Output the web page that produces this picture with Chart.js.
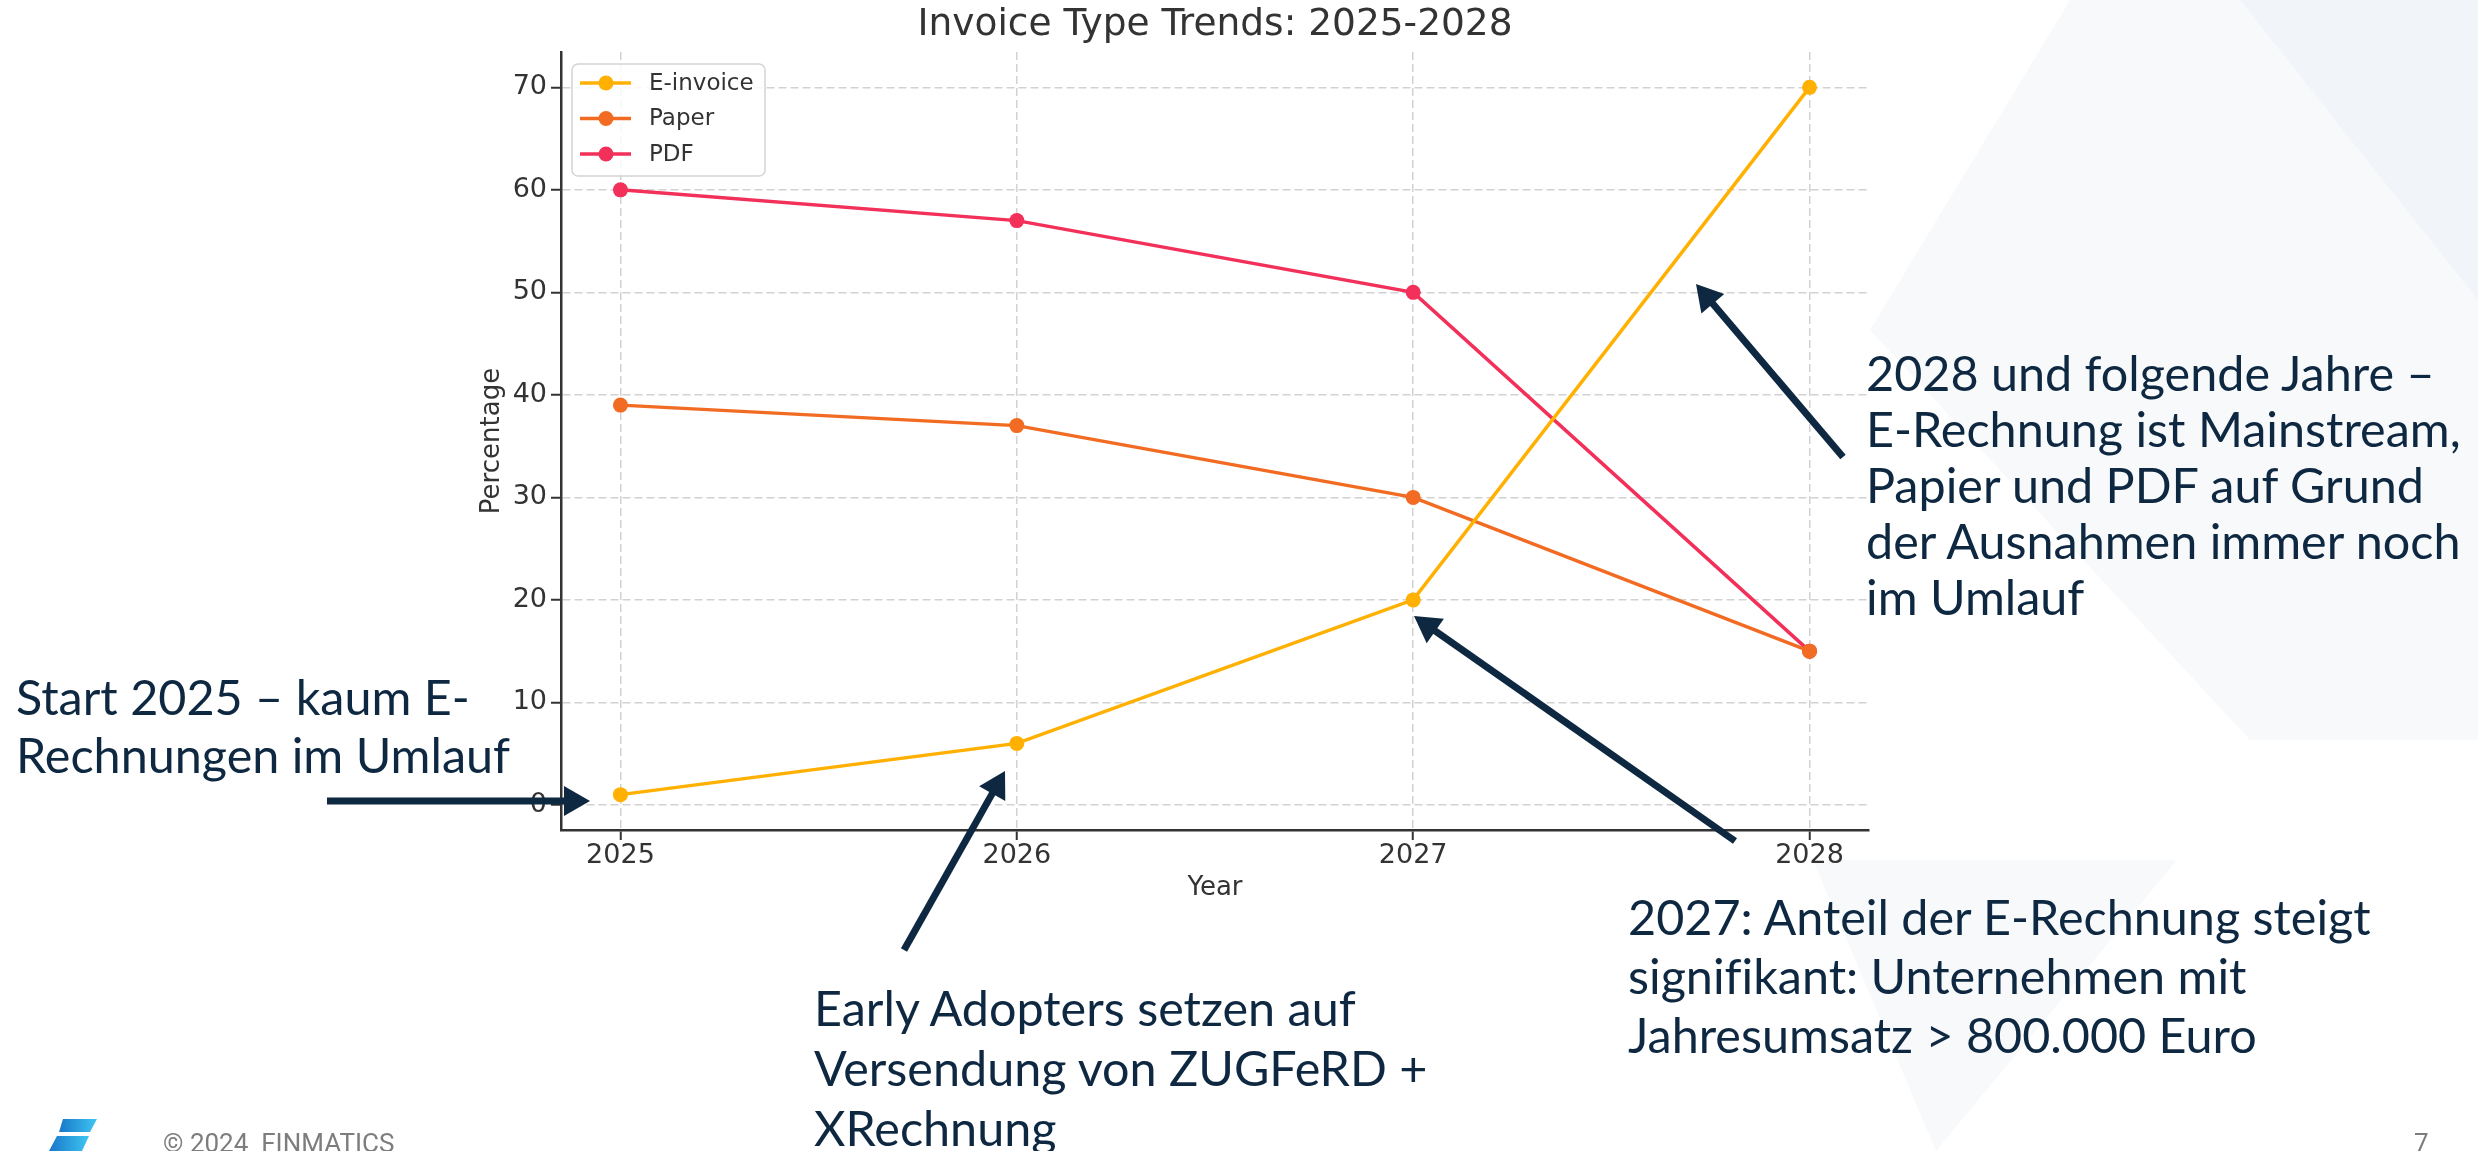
<!DOCTYPE html>
<html>
<head>
<meta charset="utf-8">
<script src="https://cdn.jsdelivr.net/npm/chart.js@4.4.0/dist/chart.umd.min.js"></script>
<style>
html, body { margin: 0; padding: 0; background: #fff; }
body { width: 2478px; height: 1151px; position: relative; overflow: hidden; font-family: Lato, sans-serif; }
#bg, #arrows { position: absolute; left: 0; top: 0; }
#wrap { position: absolute; left: 0; top: 0; width: 2478px; height: 1151px; }
.note { position: absolute; color: #0e2841; font-size: 48.5px; line-height: 58px; white-space: nowrap; font-variant-ligatures: none; }
.foot { position: absolute; color: #7d7d7d; font-family: Roboto, sans-serif; font-size: 26px; white-space: nowrap; }
</style>
</head>
<body>
<svg id="bg" width="2478" height="1151">
  <polygon points="1870,330 2070,0 2478,0 2478,740 2250,740" fill="#f8f9fb"/>
  <polygon points="2240,0 2478,0 2478,300" fill="#f1f4f8"/>
  <polygon points="1813,860 2177,860 1936,1151" fill="#f8f9fb"/>
</svg>

<div id="wrap"><canvas id="mycanvas"></canvas></div>

<svg id="arrows" width="2478" height="1151"></svg>

<div class="note" style="left:16px; top:667px;">Start 2025 – kaum E-<br>Rechnungen im Umlauf</div>
<div class="note" style="left:1866px; top:344px; line-height:56px;">2028 und folgende Jahre –<br>E-Rechnung ist Mainstream,<br>Papier und PDF auf Grund<br>der Ausnahmen immer noch<br>im Umlauf</div>
<div class="note" style="left:814px; top:977px; line-height:60px;">Early Adopters setzen auf<br>Versendung von ZUGFeRD +<br>XRechnung</div>
<div class="note" style="left:1628px; top:887px; line-height:59px;">2027: Anteil der E-Rechnung steigt<br>signifikant: Unternehmen mit<br>Jahresumsatz &gt; 800.000 Euro</div>

<svg style="position:absolute;left:0;top:0" width="2478" height="1151">
  <defs>
    <linearGradient id="logo" x1="0" y1="0" x2="1" y2="0">
      <stop offset="0" stop-color="#1877c9"/>
      <stop offset="1" stop-color="#3fc6f2"/>
    </linearGradient>
  </defs>
  <polygon points="63,1119 97,1119 90,1132 59,1132" fill="url(#logo)"/>
  <polygon points="57,1136 89,1136 82,1151 49,1151" fill="url(#logo)"/>
</svg>
<div class="foot" style="left:163px; top:1128px;">© 2024&nbsp; FINMATICS</div>
<div class="foot" style="left:2414px; top:1128px;">7</div>

<script>
const years = [2025, 2026, 2027, 2028];
const eInvoice = [1, 6, 20, 70];
const paper = [39, 37, 30, 15];
const pdf = [60, 57, 50, 15];
const yTicks = [0, 10, 20, 30, 40, 50, 60, 70];
const seriesNames = ['E-invoice', 'Paper', 'PDF'];
const seriesColors = ['#ffb000', '#f26b23', '#f2305a'];

Chart.defaults.font.family = '"DejaVu Sans", sans-serif';
Chart.defaults.color = '#333';

function series(i, values) {
	return {
		label: seriesNames[i],
		data: years.map((x, k) => ({ x: x, y: values[k] })),
		borderColor: seriesColors[i],
		backgroundColor: seriesColors[i],
		pointBackgroundColor: seriesColors[i],
		pointBorderWidth: 0,
		pointRadius: 7.5,
		borderWidth: 3.5,
		tension: 0
	};
}

// legend box inside the plot, upper left
const boxLegend = {
	id: 'boxLegend',
	afterDatasetsDraw(chart) {
		const ctx = chart.ctx;
		const a = chart.chartArea;
		const x0 = a.left + 11, y0 = a.top + 12;
		ctx.save();
		ctx.beginPath();
		ctx.roundRect(x0, y0, 193, 112, 6);
		ctx.fillStyle = 'rgba(255,255,255,0.85)';
		ctx.fill();
		ctx.strokeStyle = '#d4d4d4';
		ctx.lineWidth = 1.5;
		ctx.stroke();
		chart.data.datasets.forEach((ds, i) => {
			const cy = y0 + 19 + i * 35.5;
			ctx.strokeStyle = ds.borderColor;
			ctx.lineWidth = 3.5;
			ctx.beginPath();
			ctx.moveTo(x0 + 8, cy);
			ctx.lineTo(x0 + 59, cy);
			ctx.stroke();
			ctx.fillStyle = ds.backgroundColor;
			ctx.beginPath();
			ctx.arc(x0 + 34, cy, 7.5, 0, Math.PI * 2);
			ctx.fill();
			ctx.fillStyle = '#333';
			ctx.font = '23px "DejaVu Sans"';
			ctx.textBaseline = 'middle';
			ctx.fillText(ds.label, x0 + 77, cy + 1);
		});
		ctx.restore();
	}
};

var ctx = document.getElementById('mycanvas').getContext('2d');
var myChart = new Chart(ctx, {
	type: 'line',
	data: {
		datasets: [series(0, eInvoice), series(1, paper), series(2, pdf)]
	},
	options: {
		responsive: true,
		maintainAspectRatio: false,
		devicePixelRatio: 1,
		animation: false,
		layout: { padding: { left: 477, right: 609, top: 0, bottom: 247 } },
		plugins: {
			legend: { display: false },
			tooltip: { enabled: false },
			title: {
				display: true,
				text: 'Invoice Type Trends: 2025-2028',
				fullSize: false,
				color: '#333',
				font: { size: 37.5, weight: 'normal' },
				padding: { top: 3, bottom: 4 }
			}
		},
		scales: {
			x: {
				type: 'linear',
				min: 2024.85,
				max: 2028.15,
				afterBuildTicks: s => { s.ticks = years.map(v => ({ value: v })); },
				afterFit: s => { s.height = 74; },
				ticks: { callback: v => String(v), font: { size: 27 }, padding: 0, color: '#333', maxRotation: 0 },
				grid: { color: '#d2d2d2', lineWidth: 1.5, tickLength: 10, tickColor: '#333', tickWidth: 2 },
				border: { color: '#333', width: 2.5, dash: [8, 4] },
				title: { display: true, text: 'Year', font: { size: 26 }, color: '#333', padding: 0 }
			},
			y: {
				type: 'linear',
				min: -2.45,
				max: 73.45,
				afterBuildTicks: s => { s.ticks = yTicks.map(v => ({ value: v })); },
				afterFit: s => { s.width = 84; },
				ticks: { font: { size: 27 }, padding: 4, color: '#333' },
				grid: { color: '#d2d2d2', lineWidth: 1.5, tickLength: 10, tickColor: '#333', tickWidth: 2 },
				border: { color: '#333', width: 2.5, dash: [8, 4] },
				title: { display: true, text: 'Percentage', font: { size: 26 }, color: '#333', padding: 0 }
			}
		}
	},
	plugins: [boxLegend]
});

// annotation arrows (tail -> tip)
const arrows = [
	[327, 801, 590, 801],
	[904, 950, 1005, 771],
	[1735, 841, 1414, 616],
	[1843, 457, 1696, 284]
];
const svg = document.getElementById('arrows');
arrows.forEach(a => {
	const dx = a[2] - a[0], dy = a[3] - a[1];
	const len = Math.sqrt(dx * dx + dy * dy);
	const ux = dx / len, uy = dy / len;
	const hl = 26, hw = 15;
	const bx = a[2] - ux * hl, by = a[3] - uy * hl;
	const line = document.createElementNS('http://www.w3.org/2000/svg', 'line');
	line.setAttribute('x1', a[0]); line.setAttribute('y1', a[1]);
	line.setAttribute('x2', bx + ux * 2); line.setAttribute('y2', by + uy * 2);
	line.setAttribute('stroke', '#0e2841'); line.setAttribute('stroke-width', 7);
	svg.appendChild(line);
	const head = document.createElementNS('http://www.w3.org/2000/svg', 'polygon');
	head.setAttribute('points', a[2] + ',' + a[3] + ' ' + (bx - uy * hw) + ',' + (by + ux * hw) + ' ' + (bx + uy * hw) + ',' + (by - ux * hw));
	head.setAttribute('fill', '#0e2841');
	svg.appendChild(head);
});
</script>
</body>
</html>
